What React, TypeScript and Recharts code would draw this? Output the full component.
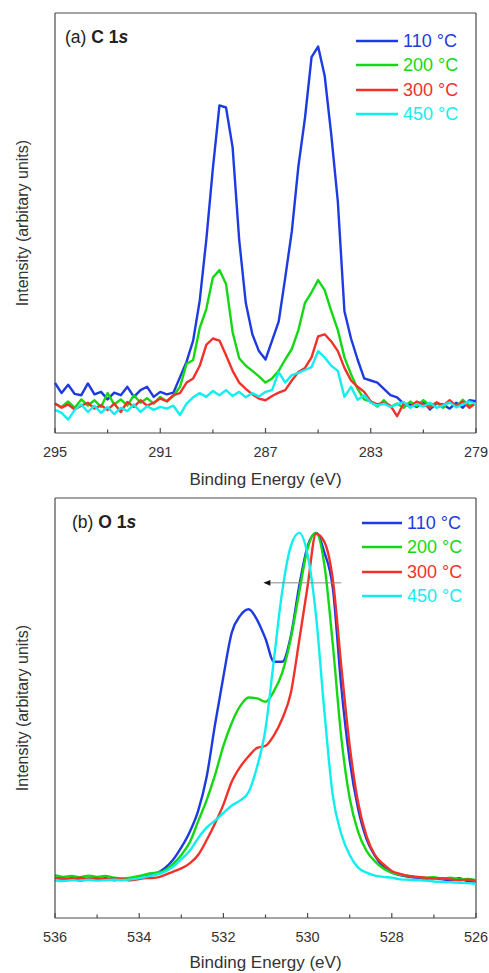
import React from 'react';
import { LineChart, Line, XAxis, YAxis, Legend, ReferenceLine, Label } from 'recharts';

const FONT = '"Liberation Sans", Arial, Helvetica, sans-serif';

const seriesNames = ['110 °C', '200 °C', '300 °C', '450 °C'];
const seriesKeys = ['s110', 's200', 's300', 's450'];
const seriesColors = ['#1d3be0', '#14d814', '#f2322a', '#12eeee'];

// ---- (a) C 1s ----
const energyC = [295, 294.75, 294.5, 294.25, 294, 293.75, 293.5, 293.25, 293, 292.75, 292.5, 292.25, 292, 291.75, 291.5, 291.25, 291, 290.75, 290.5, 290.25, 290, 289.75, 289.5, 289.25, 289, 288.75, 288.5, 288.25, 288, 287.75, 287.5, 287.25, 287, 286.75, 286.5, 286.25, 286, 285.75, 285.5, 285.25, 285, 284.75, 284.5, 284.25, 284, 283.75, 283.5, 283.25, 283, 282.75, 282.5, 282.25, 282, 281.75, 281.5, 281.25, 281, 280.75, 280.5, 280.25, 280, 279.75, 279.5, 279.25, 279];
const c110 = [11.9, 9.5, 11.5, 9.3, 9.0, 11.8, 9.2, 9.8, 8.0, 9.6, 9.0, 11.0, 8.6, 10.2, 11.0, 8.6, 9.8, 9.2, 9.6, 13.3, 17.0, 22.0, 31.5, 46.0, 63.0, 78.0, 77.5, 68.0, 46.0, 31.0, 23.5, 19.5, 17.5, 22.0, 26.5, 37.0, 48.0, 63.5, 75.0, 89.5, 92.0, 85.0, 71.0, 55.0, 29.0, 22.5, 17.5, 13.0, 12.5, 12.0, 10.5, 9.0, 8.5, 7.0, 6.8, 6.2, 7.5, 5.6, 7.0, 6.8, 5.8, 7.2, 6.0, 7.8, 7.6];
const c200 = [7.0, 6.2, 7.5, 6.0, 8.0, 6.5, 7.8, 6.2, 9.5, 6.8, 8.0, 6.5, 9.0, 7.2, 8.3, 7.0, 8.6, 7.5, 8.8, 11.0, 16.5, 17.4, 25.0, 29.5, 37.0, 38.8, 35.5, 24.0, 17.8, 16.0, 14.8, 13.5, 12.0, 13.0, 14.8, 17.5, 20.0, 24.5, 31.0, 33.5, 36.4, 34.0, 29.0, 24.5, 18.0, 14.0, 10.5, 8.0, 7.5, 6.3, 7.8, 6.2, 7.0, 6.0, 7.5, 6.4, 7.8, 6.6, 7.2, 6.0, 7.6, 6.3, 7.9, 6.5, 7.0];
const c300 = [7.0, 6.0, 6.8, 5.6, 6.5, 7.2, 5.8, 6.6, 5.5, 7.0, 5.0, 7.4, 6.2, 7.8, 6.5, 7.2, 8.2, 7.6, 9.0, 9.5, 12.0, 13.0, 16.0, 21.0, 22.5, 22.0, 18.5, 14.8, 12.0, 10.5, 9.2, 8.2, 7.8, 8.8, 9.6, 10.2, 12.5, 14.5, 15.5, 18.0, 23.0, 23.5, 21.8, 19.5, 15.5, 12.5, 11.0, 9.8, 7.5, 6.8, 7.2, 6.5, 4.0, 7.0, 6.2, 7.5, 6.8, 6.0, 7.3, 6.5, 7.8, 6.4, 7.5, 6.0, 7.2];
const c450 = [5.5, 4.8, 3.2, 5.5, 6.8, 5.0, 6.5, 4.8, 6.2, 4.5, 6.0, 5.2, 6.8, 5.0, 6.4, 5.5, 6.2, 5.8, 6.5, 4.3, 7.0, 8.5, 9.5, 8.6, 10.0, 9.0, 10.2, 8.8, 9.8, 8.5, 9.5, 8.7, 9.8, 10.2, 14.5, 12.0, 13.8, 14.3, 15.0, 15.7, 19.5, 18.0, 16.0, 14.8, 8.6, 11.0, 7.9, 9.0, 7.2, 6.5, 7.0, 6.2, 6.8, 7.4, 6.0, 6.9, 6.3, 7.2, 6.0, 6.6, 7.3, 6.1, 6.8, 7.5, 6.9];
const ticksC = [295, 293, 291, 289, 287, 285, 283, 281, 279];
const majorTicksC = [295, 291, 287, 283, 279];
const frameC = { xMax: 279, yMax: 100 };

// ---- (b) O 1s ----
const energyO = [536, 535.8, 535.6, 535.4, 535.2, 535, 534.8, 534.6, 534.4, 534.2, 534, 533.8, 533.6, 533.4, 533.2, 533, 532.8, 532.6, 532.4, 532.2, 532, 531.8, 531.6, 531.4, 531.2, 531, 530.8, 530.6, 530.4, 530.2, 530, 529.8, 529.6, 529.4, 529.2, 529, 528.8, 528.6, 528.4, 528.2, 528, 527.8, 527.6, 527.4, 527.2, 527, 526.8, 526.6, 526.4, 526.2, 526];
const o110 = [9.6, 9.2, 9.5, 8.9, 9.4, 9.1, 9.5, 9.0, 9.3, 9.4, 9.6, 10.0, 10.6, 11.8, 13.8, 16.8, 20.5, 25.5, 33.5, 46.0, 57.5, 68.0, 72.0, 73.5, 71.0, 66.5, 61.0, 61.0, 67.0, 79.0, 88.5, 91.7, 87.0, 78.5, 55.0, 37.5, 26.0, 18.8, 14.8, 12.2, 10.8, 10.2, 9.8, 9.6, 9.4, 9.5, 9.2, 9.0, 9.5, 8.8, 8.7];
const o200 = [10.2, 9.8, 10.0, 9.7, 10.1, 9.8, 10.0, 9.6, 9.4, 9.6, 10.0, 10.5, 10.8, 11.3, 12.8, 15.0, 18.0, 23.0, 28.0, 34.0, 41.0, 46.5, 50.5, 52.5, 52.3, 51.5, 54.0, 58.5, 66.5, 77.5, 88.0, 91.7, 84.0, 65.0, 43.0, 28.5, 20.5, 16.0, 13.5, 11.8, 10.8, 10.3, 10.0, 9.8, 9.6, 9.7, 9.4, 9.6, 9.2, 9.3, 9.0];
const o300 = [9.5, 9.4, 9.3, 9.6, 9.3, 9.5, 9.2, 9.4, 9.2, 9.0, 9.3, 9.5, 9.6, 10.2, 11.0, 11.8, 13.0, 15.0, 18.5, 22.5, 27.0, 32.5, 36.0, 38.5, 40.5, 41.0, 43.5, 47.5, 53.5, 66.0, 79.0, 91.5, 89.5, 80.5, 60.0, 41.0, 27.5, 19.5, 15.0, 12.8, 11.2, 10.5, 10.0, 9.8, 9.6, 9.4, 9.5, 9.2, 9.0, 9.1, 8.8];
const o450 = [9.0, 8.8, 9.0, 8.9, 9.1, 8.9, 9.0, 9.1, 9.0, 9.2, 9.5, 9.9, 10.3, 11.0, 12.2, 14.0, 16.0, 19.0, 21.5, 23.2, 25.0, 26.8, 28.0, 30.0, 36.0, 45.0, 61.5, 78.0, 88.5, 91.7, 86.5, 72.0, 49.0, 29.0, 20.0, 15.0, 12.0, 10.8, 10.1, 9.8, 9.6, 9.2, 9.1, 9.0, 8.9, 8.7, 8.6, 8.5, 8.4, 8.3, 8.1];
const ticksO = [536, 535, 534, 533, 532, 531, 530, 529, 528, 527, 526];
const majorTicksO = [536, 534, 532, 530, 528, 526];
const frameO = { xMax: 526, yMax: 100 };
const arrowO = [{ x: 529.2, y: 79.8 }, { x: 531.05, y: 79.8 }];

const buildRows = (energy: number[], series: number[][]) =>
  energy.map((e, i) => {
    const row: any = { e };
    seriesKeys.forEach((k, j) => { row[k] = series[j][i]; });
    return row;
  });

const dataC = buildRows(energyC, [c110, c200, c300, c450]);
const dataO = buildRows(energyO, [o110, o200, o300, o450]);

const FRAME = '#4a4a4a';

const makeTick = (major: number[]) => (props: any) => {
  const { x, y, payload } = props;
  const v = payload.value;
  const isMajor = major.includes(v);
  return (
    <g>
      <line x1={x} x2={x} y1={y} y2={y - (isMajor ? 5 : 3.5)} stroke={FRAME} strokeWidth={1.2} />
      {isMajor && (
        <text x={x} y={y + 24} textAnchor="middle" fontSize={14.5} fill="#333" fontFamily={FONT}>{v}</text>
      )}
    </g>
  );
};

const YTitle = (props: any) => {
  const vb = props.viewBox || { x: 0, y: 0, width: 55, height: 400 };
  const cx = vb.x + 22;
  const cy = vb.y + vb.height / 2;
  return (
    <text x={cx} y={cy} transform={`rotate(-90 ${cx} ${cy})`} textAnchor="middle" dominantBaseline="central" fontSize={16} fill="#333" fontFamily={FONT}>
      Intensity (arbitary units)
    </text>
  );
};

const makeXTitle = (dy: number) => (props: any) => {
  const vb = props.viewBox || { x: 55, y: 0, width: 421, height: 50 };
  return (
    <text x={vb.x + vb.width / 2} y={vb.y + dy} textAnchor="middle" fontSize={17} fill="#333" fontFamily={FONT}>
      Binding Energy (eV)
    </text>
  );
};

const makeLegend = (lineLen: number) => () => (
  <div style={{ fontFamily: FONT, fontSize: 18 }}>
    {seriesNames.map((n, i) => (
      <div key={n} style={{ display: 'flex', alignItems: 'center', height: 24.5 }}>
        <svg width={lineLen} height={4} style={{ marginRight: 5, display: 'block' }}>
          <line x1={0} x2={lineLen} y1={2} y2={2} stroke={seriesColors[i]} strokeWidth={2.5} />
        </svg>
        <span style={{ color: seriesColors[i], lineHeight: '1', whiteSpace: 'nowrap' }}>{n}</span>
      </div>
    ))}
  </div>
);

const ArrowShape = (p: any) => {
  const { x1, y1, x2, y2 } = p;
  const left = Math.min(x1, x2);
  const right = Math.max(x1, x2);
  const y = (y1 + y2) / 2;
  return (
    <g>
      <line x1={right} x2={left + 4} y1={y} y2={y} stroke="#8a8a8a" strokeWidth={1} />
      <polygon points={`${left},${y} ${left + 7},${y - 2.8} ${left + 7},${y + 2.8}`} fill="#111" />
    </g>
  );
};

const lines = (curve: 'linear' | 'monotone') =>
  seriesKeys.map((k, i) => (
    <Line
      key={k}
      dataKey={k}
      type={curve}
      stroke={seriesColors[i]}
      strokeWidth={2.4}
      dot={false}
      activeDot={false}
      isAnimationActive={false}
      strokeLinejoin="round"
    />
  ));

const frameLines = (f: { xMax: number; yMax: number }) => [
  <ReferenceLine key="fy" y={f.yMax} stroke={FRAME} strokeWidth={1.2} ifOverflow="visible" />,
  <ReferenceLine key="fx" x={f.xMax} stroke={FRAME} strokeWidth={1.2} ifOverflow="visible" />,
];

export default function App() {
  return (
    <div style={{ position: 'absolute', left: 0, top: 0, width: 489, height: 973, background: '#fff' }}>
      <LineChart width={489} height={490} data={dataC} margin={{ top: 13, right: 13, bottom: 0, left: 0 }}>
        <XAxis
          dataKey="e"
          type="number"
          domain={[279, 295]}
          reversed
          ticks={ticksC}
          interval={0}
          tickSize={0}
          tickMargin={0}
          tickLine={false}
          tick={makeTick(majorTicksC)}
          height={57}
          axisLine={{ stroke: FRAME, strokeWidth: 1.2 }}
        >
          <Label content={makeXTitle(52)} />
        </XAxis>
        <YAxis type="number" domain={[0, 100]} width={55} tick={false} tickLine={false} axisLine={{ stroke: FRAME, strokeWidth: 1.2 }}>
          <Label content={YTitle} />
        </YAxis>
        {frameLines(frameC)}
        {lines('linear')}
        <Legend layout="vertical" align="center" verticalAlign="middle" content={makeLegend(42)} wrapperStyle={{ left: 356, top: 28.5, width: 'auto' }} />
        <text x={65} y={43} fontSize={17.5} fill="#222" fontFamily={FONT}>
          (a){' '}
          <tspan fontWeight="bold">C 1</tspan>
          <tspan fontWeight="bold" fontStyle="italic">s</tspan>
        </text>
      </LineChart>
      <LineChart width={489} height={483} data={dataO} margin={{ top: 8, right: 13, bottom: 0, left: 0 }}>
        <XAxis
          dataKey="e"
          type="number"
          domain={[526, 536]}
          reversed
          ticks={ticksO}
          interval={0}
          tickSize={0}
          tickMargin={0}
          tickLine={false}
          tick={makeTick(majorTicksO)}
          height={55}
          axisLine={{ stroke: FRAME, strokeWidth: 1.2 }}
        >
          <Label content={makeXTitle(50)} />
        </XAxis>
        <YAxis type="number" domain={[0, 100]} width={55} tick={false} tickLine={false} axisLine={{ stroke: FRAME, strokeWidth: 1.2 }}>
          <Label content={YTitle} />
        </YAxis>
        {frameLines(frameO)}
        {lines('monotone')}
        <ReferenceLine segment={arrowO} shape={ArrowShape} ifOverflow="visible" />
        <Legend layout="vertical" align="center" verticalAlign="middle" content={makeLegend(40)} wrapperStyle={{ left: 362, top: 20.5, width: 'auto' }} />
        <text x={72} y={38} fontSize={17.5} fill="#222" fontFamily={FONT}>
          (b){' '}
          <tspan fontWeight="bold">O 1</tspan>
          <tspan fontWeight="bold" fontStyle="italic">s</tspan>
        </text>
      </LineChart>
    </div>
  );
}
